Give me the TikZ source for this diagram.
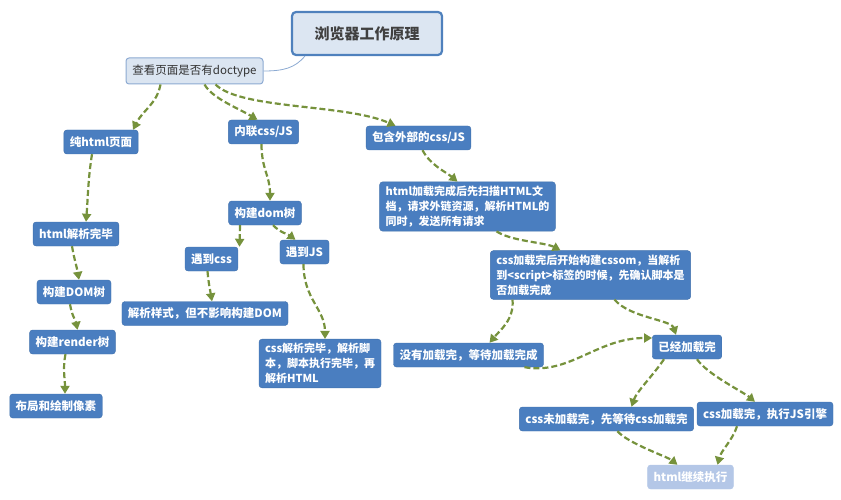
\documentclass[tikz,border=0pt]{standalone}
\usepackage{fontspec}
\newfontfamily\cjk{Noto Sans CJK SC}
\usetikzlibrary{arrows.meta}
\definecolor{boxblue}{RGB}{74,126,192}
\definecolor{boxedge}{RGB}{64,112,172}
\definecolor{flowgreen}{RGB}{118,146,60}
\definecolor{rootfill}{RGB}{220,230,242}
\definecolor{rootedge}{RGB}{79,129,189}
\definecolor{topfill}{RGB}{219,229,241}
\definecolor{topedge}{RGB}{140,170,210}
\definecolor{fadeblue}{RGB}{180,199,231}
\tikzset{
 box/.style={rectangle, rounded corners=3pt, fill=boxblue, draw=boxedge, text=white, font=\cjk\bfseries\fontsize{11.5}{15}\selectfont, minimum height=24pt, inner xsep=6pt, inner ysep=4pt},
 bigbox/.style={box, align=left, font=\cjk\bfseries\fontsize{11}{15}\selectfont},
 flow/.style={draw=flowgreen, dashed, dash pattern=on 6pt off 3pt, line width=2.2pt, -{Triangle[length=8pt,width=9pt]}}
}
\begin{document}
\begin{tikzpicture}[x=1pt, y=-1pt, line join=round]
 \useasboundingbox (0,0) rectangle (841,500);
 \node[rectangle, rounded corners=4pt, fill=rootfill, draw=rootedge, line width=2.2pt, minimum width=150pt, minimum height=43pt, text=black!75, font=\cjk\bfseries\fontsize{15}{18}\selectfont] (titl) at (367,33.5) {浏览器工作原理};
 \node[rectangle, rounded corners=3pt, fill=topfill, draw=topedge, line width=1pt, minimum width=137pt, minimum height=26pt, text=black!80, font=\cjk\fontsize{11.5}{14}\selectfont] (doc) at (194.5,71) {查看页面是否有doctype};
 \draw[draw=topedge, line width=.8pt] ([xshift=14pt]titl.south west) .. controls +(-10,12) and +(20,0) .. (doc.east);
 % left branch
 \node[box] (pure) at (101,142) {纯html页面};
 \node[box] (hdone) at (76,234) {html解析完毕};
 \node[box] (dom) at (74,292) {构建DOM树};
 \node[box] (rend) at (72.5,342) {构建render树};
 \node[box] (lay) at (56,406) {布局和绘制像素};
 % inline branch
 \node[box] (inl) at (263.5,132) {内联css/JS};
 \node[box] (domA) at (265,213) {构建dom树};
 \node[box] (mcss) at (211.5,259) {遇到css};
 \node[box] (mjs) at (304.5,252) {遇到JS};
 \node[box] (sty) at (205,313.5) {解析样式，但不影响构建DOM};
 \node[bigbox] (jsdone) at (320,363.5) {css解析完毕，解析脚\\本，脚本执行完毕，再\\解析HTML};
 % external branch
 \node[box] (ext) at (418.5,138) {包含外部的css/JS};
 \node[bigbox] (scan) at (467.5,206.5) {html加载完成后先扫描HTML文\\档，请求外链资源，解析HTML的\\同时，发送所有请求};
 \node[bigbox] (cssom) at (590.5,275) {css加载完后开始构建cssom，当解析\\到<script>标签的时候，先确认脚本是\\否加载完成};
 \node[box] (wait) at (468.5,355) {没有加载完，等待加载完成};
 \node[box] (loaded) at (687,347) {已经加载完};
 \node[box] (cwait) at (606.5,419) {css未加载完，先等待css加载完};
 \node[box] (jsrun) at (765,414) {css加载完，执行JS引擎};
 \node[box, fill=fadeblue, draw=fadeblue] (cont) at (690.5,477) {html继续执行};
 % connectors
 \draw[flow] ([xshift=-34pt]doc.south) .. controls +(-4,20) and +(10,-20) .. ([xshift=32pt]pure.north);
 \draw[flow] ([xshift=10pt]doc.south) .. controls +(8,14) and +(-20,-12) .. ([xshift=-6pt]inl.north);
 \draw[flow] ([xshift=21pt]doc.south) .. controls +(25,25) and +(-50,-22) .. ([xshift=-23pt]ext.north);
 \draw[flow] ([xshift=-9pt]pure.south) .. controls +(-4,25) and +(2,-25) .. ([xshift=10pt]hdone.north);
 \draw[flow] ([xshift=-4pt]hdone.south) .. controls +(2,12) and +(-2,-12) .. ([xshift=5pt]dom.north);
 \draw[flow] ([xshift=-4pt]dom.south) .. controls +(2,12) and +(-2,-10) .. ([xshift=5pt]rend.north);
 \draw[flow] ([xshift=-7pt]rend.south) .. controls +(-3,15) and +(0,-15) .. ([xshift=9pt]lay.north);
 \draw[flow] ([xshift=-2pt]inl.south) .. controls +(0,25) and +(0,-25) .. ([xshift=5pt]domA.north);
 \draw[flow] ([xshift=-25pt]domA.south) -- ([xshift=28pt]mcss.north);
 \draw[flow] ([xshift=8pt]domA.south) .. controls +(8,8) and +(-8,-6) .. ([xshift=-9pt]mjs.north);
 \draw[flow] ([xshift=-4pt]mcss.south) .. controls +(1,12) and +(-2,-12) .. ([xshift=7pt]sty.north);
 \draw[flow] ([xshift=-1pt]mjs.south) .. controls +(0,35) and +(0,-30) .. ([xshift=5pt]jsdone.north);
 \draw[flow] ([xshift=4pt]ext.south) .. controls +(8,15) and +(-12,-10) .. ([xshift=-10pt]scan.north);
 \draw[flow] ([xshift=29pt]scan.south) .. controls +(15,10) and +(-15,-8) .. ([xshift=-30pt]cssom.north);
 \draw[flow] ([xshift=-78pt]cssom.south) .. controls +(2,20) and +(10,-12) .. ([xshift=21pt]wait.north);
 \draw[flow] ([xshift=24pt]cssom.south) .. controls +(15,18) and +(-5,-15) .. ([xshift=-11pt]loaded.north);
 \draw[flow] ([xshift=56pt]wait.south) .. controls +(45,8) and +(-55,0) .. ([yshift=9pt]loaded.west);
 \draw[flow] ([xshift=-23pt]loaded.south) .. controls +(-10,15) and +(5,-15) .. ([xshift=25pt]cwait.north);
 \draw[flow] ([xshift=10pt]loaded.south) .. controls +(10,15) and +(-12,-10) .. ([xshift=-10pt]jsrun.north);
 \draw[flow] ([xshift=11pt]cwait.south) .. controls +(10,12) and +(-10,-8) .. ([xshift=-13pt]cont.north);
 \draw[flow] ([xshift=-28pt]jsrun.south) .. controls +(-5,15) and +(4,-15) .. ([xshift=27pt]cont.north);
\end{tikzpicture}
\end{document}
